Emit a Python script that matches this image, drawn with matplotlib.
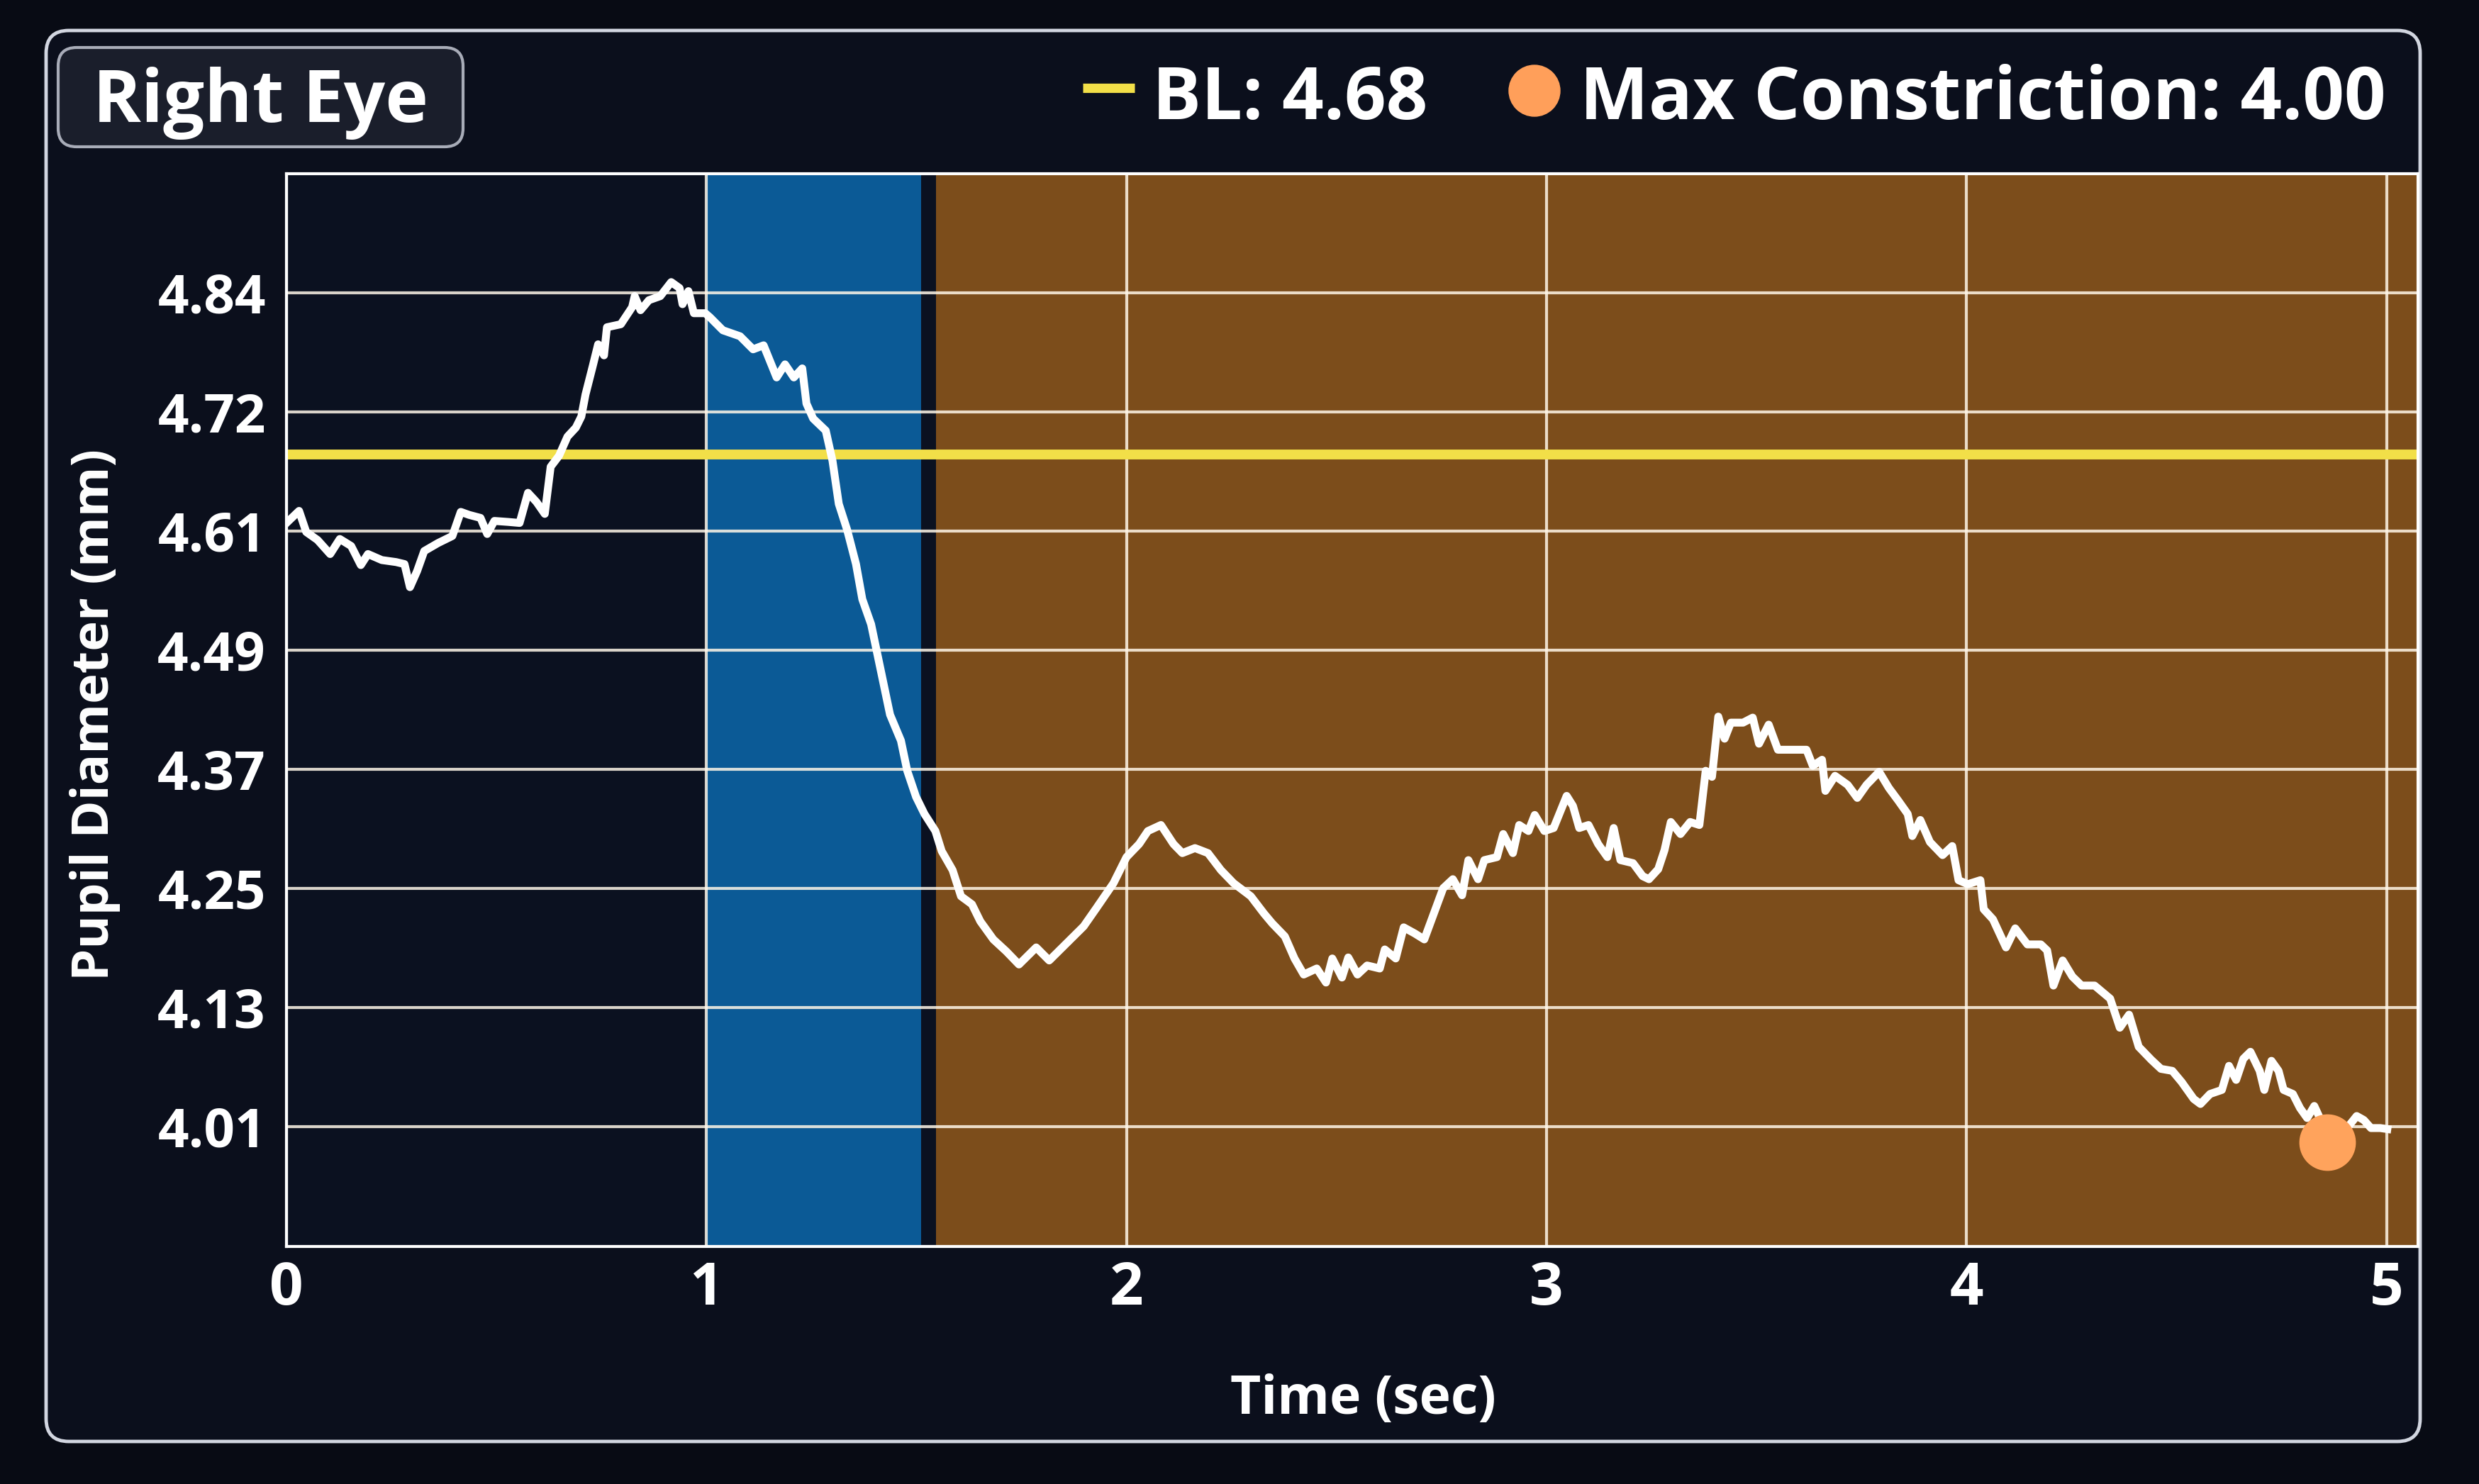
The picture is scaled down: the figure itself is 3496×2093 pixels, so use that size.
import matplotlib
matplotlib.use("Agg")
import matplotlib.pyplot as plt
from matplotlib.patches import FancyBboxPatch, Circle
from matplotlib.lines import Line2D

# pupil trace (time in s, diameter in mm)
time_s = [
    0.000, 0.030, 0.047, 0.074, 0.104, 0.127, 0.154, 0.177, 0.194, 0.227,
    0.261, 0.281, 0.294, 0.311, 0.328, 0.361, 0.395, 0.415, 0.435, 0.462,
    0.478, 0.495, 0.528, 0.555, 0.575, 0.595, 0.615, 0.629, 0.649, 0.669,
    0.689, 0.702, 0.712, 0.729, 0.742, 0.756, 0.763, 0.796, 0.823, 0.829,
    0.843, 0.863, 0.890, 0.916, 0.936, 0.943, 0.957, 0.970, 0.997,
    1.008, 1.039, 1.080, 1.111, 1.136, 1.167, 1.187, 1.208, 1.228, 1.238,
    1.254, 1.284, 1.300, 1.315, 1.335, 1.356, 1.371, 1.392, 1.407, 1.422,
    1.437, 1.463, 1.478, 1.499, 1.519, 1.545, 1.560, 1.586, 1.606, 1.632,
    1.652, 1.683, 1.714, 1.744, 1.785, 1.816, 1.857, 1.898, 1.928, 1.969,
    2.000, 2.030, 2.051, 2.082, 2.112, 2.133, 2.163, 2.194, 2.225, 2.255,
    2.296, 2.327,
    2.347, 2.377, 2.400, 2.422, 2.453, 2.475, 2.490, 2.513, 2.528, 2.550,
    2.573, 2.603, 2.615, 2.641, 2.660, 2.686, 2.709, 2.731, 2.754, 2.777,
    2.799, 2.814, 2.837, 2.852, 2.882, 2.897, 2.920, 2.935, 2.957, 2.972,
    2.995, 3.017, 3.048, 3.063, 3.078, 3.100, 3.123, 3.145, 3.160, 3.176,
    3.206, 3.229, 3.244, 3.266, 3.281, 3.296, 3.319, 3.342, 3.364, 3.379,
    3.394, 3.409, 3.424, 3.439,
    3.468, 3.491, 3.506, 3.529, 3.551, 3.581, 3.619, 3.634, 3.656, 3.664,
    3.687, 3.717, 3.740, 3.762, 3.792, 3.815, 3.838, 3.860, 3.871, 3.890,
    3.913, 3.943, 3.966, 3.981, 4.003, 4.033, 4.041, 4.063, 4.094, 4.116,
    4.145, 4.177, 4.192, 4.207, 4.229, 4.252, 4.274, 4.305, 4.342, 4.365,
    4.387, 4.410, 4.440, 4.463,
    4.490, 4.512, 4.541, 4.557, 4.580, 4.608, 4.625, 4.642, 4.659, 4.676,
    4.698, 4.709, 4.726, 4.743, 4.755, 4.777, 4.794, 4.811, 4.828, 4.839,
    4.859, 4.906, 4.929, 4.946, 4.963, 4.985, 5.002,
]
pupil_mm = [
    4.612, 4.624, 4.603, 4.595, 4.581, 4.596, 4.589, 4.570, 4.581, 4.575,
    4.573, 4.571, 4.548, 4.564, 4.584, 4.592, 4.599, 4.623, 4.620, 4.617,
    4.601, 4.614, 4.613, 4.612, 4.642, 4.633, 4.621, 4.668, 4.679, 4.698,
    4.707, 4.718, 4.740, 4.768, 4.790, 4.779, 4.807, 4.810, 4.827, 4.838,
    4.824, 4.834, 4.838, 4.852, 4.846, 4.830, 4.843, 4.821, 4.821,
    4.817, 4.804, 4.798, 4.785, 4.789, 4.757, 4.770, 4.757, 4.766, 4.731,
    4.716, 4.704, 4.674, 4.631, 4.605, 4.571, 4.536, 4.511, 4.481, 4.451,
    4.421, 4.395, 4.365, 4.339, 4.322, 4.305, 4.285, 4.266, 4.240, 4.232,
    4.215, 4.197, 4.185, 4.172, 4.189, 4.176, 4.193, 4.210, 4.228, 4.253,
    4.279, 4.292, 4.305, 4.311, 4.292, 4.283, 4.288, 4.283, 4.266, 4.253,
    4.240, 4.223,
    4.213, 4.200, 4.178, 4.162, 4.168, 4.154, 4.178, 4.159, 4.179, 4.162,
    4.171, 4.168, 4.187, 4.178, 4.209, 4.203, 4.197, 4.222, 4.248, 4.257,
    4.241, 4.276, 4.257, 4.276, 4.279, 4.302, 4.283, 4.311, 4.305, 4.321,
    4.305, 4.308, 4.340, 4.330, 4.308, 4.311, 4.292, 4.279, 4.308, 4.276,
    4.273, 4.260, 4.257, 4.267, 4.286, 4.314, 4.302, 4.314, 4.311, 4.365,
    4.359, 4.419, 4.397, 4.413,
    4.413, 4.418, 4.392, 4.411, 4.386, 4.386, 4.386, 4.370, 4.376, 4.345,
    4.360, 4.351, 4.338, 4.351, 4.364, 4.348, 4.335, 4.322, 4.300, 4.316,
    4.294, 4.281, 4.290, 4.256, 4.252, 4.256, 4.227, 4.217, 4.189, 4.208,
    4.192, 4.192, 4.186, 4.151, 4.176, 4.160, 4.151, 4.151, 4.138, 4.109,
    4.122, 4.090, 4.077, 4.068,
    4.066, 4.055, 4.038, 4.033, 4.043, 4.047, 4.071, 4.057, 4.078, 4.085,
    4.066, 4.047, 4.076, 4.066, 4.047, 4.043, 4.029, 4.019, 4.031, 4.021,
    3.995, 4.009, 4.021, 4.017, 4.009, 4.009, 4.008,
]

baseline_mm = 4.68
max_constriction_mm = 4.00
blue_span = (1.0, 1.511)
orange_span = (1.547, 5.075)

x_ticks = [0, 1, 2, 3, 4, 5]
y_tick_labels = ["4.01", "4.13", "4.25", "4.37", "4.49", "4.61", "4.72", "4.84"]
y_first, y_step = 4.0107, 0.1187
x_lim = (0, 5.075)
y_lim = (3.891, 4.960)

plt.rcParams['font.family'] = ['Open Sans', 'DejaVu Sans']
plt.rcParams['font.weight'] = 'bold'

W, H = 3496, 2093
fig = plt.figure(figsize=(W / 100, H / 100), dpi=100, facecolor='#080b14')

# pixel overlay for the screen frame, title box and legend
bg = fig.add_axes([0, 0, 1, 1], zorder=0)
bg.set_xlim(0, W)
bg.set_ylim(H, 0)
bg.axis('off')

bg.add_patch(FancyBboxPatch((65, 43), 3413 - 65, 2033 - 43,
                            boxstyle='round,pad=0,rounding_size=32',
                            fc='#0b0f1c', ec='#d2d6e0', lw=3.5))
bg.add_patch(FancyBboxPatch((82, 67), 653 - 82, 207 - 67,
                            boxstyle='round,pad=0,rounding_size=26',
                            fc='#1a1e2b', ec='#a8acb8', lw=3))
bg.text(367, 172, 'Right Eye', ha='center', va='baseline',
        fontsize=74, color='white', weight='bold')

bg.add_line(Line2D([1527, 1600], [124, 124], color='#f2df48', lw=9.5,
                   solid_capstyle='butt'))
bg.text(1625, 168, f'BL: {baseline_mm:.2f}', ha='left', va='baseline',
        fontsize=74, color='white', weight='bold')
bg.add_patch(Circle((2164, 128), 36, color='#ff9f5a'))
bg.text(2228, 168, f'Max Constriction: {max_constriction_mm:.2f}', ha='left',
        va='baseline', fontsize=74, color='white', weight='bold')

bg.text(1922, 1975, 'Time (sec)', ha='center', va='center',
        fontsize=54, color='white', weight='bold')
bg.text(134, 1008, 'Pupil Diameter (mm)', ha='center', va='center',
        rotation=90, fontsize=52, color='white', weight='bold')

# main chart
left, right, top, bottom = 404, 3410, 245, 1758
ax = fig.add_axes([left / W, 1 - bottom / H, (right - left) / W, (bottom - top) / H],
                  zorder=1)
ax.set_facecolor('#0b1120')
ax.axvspan(*blue_span, color='#0b5a96', lw=0, zorder=0.8)
ax.axvspan(*orange_span, color='#7c4d1b', lw=0, zorder=0.8)

ax.set_xlim(*x_lim)
ax.set_ylim(*y_lim)
ax.set_xticks(x_ticks)
ax.set_xticklabels([str(t) for t in x_ticks])
ax.set_yticks([y_first + i * y_step for i in range(len(y_tick_labels))])
ax.set_yticklabels(y_tick_labels)
ax.set_axisbelow('line')
ax.grid(True, color='#fff6e8', alpha=0.85, lw=3)

ax.axhline(baseline_mm, color='#f2df48', lw=10, zorder=2)
ax.plot(time_s, pupil_mm, color='white', lw=8, zorder=3,
        solid_joinstyle='round')
i_min = pupil_mm.index(min(pupil_mm))
ax.scatter([time_s[i_min]], [pupil_mm[i_min]], s=3300, color='#ffa35c',
           lw=0, zorder=4, clip_on=False)

for s in ax.spines.values():
    s.set_color('white')
    s.set_linewidth(3)
ax.tick_params(axis='both', length=0, colors='white')
ax.tick_params(axis='y', labelsize=55, pad=21)
ax.tick_params(axis='x', labelsize=60, pad=14)

plt.savefig('out.png', dpi=100, facecolor=fig.get_facecolor())
